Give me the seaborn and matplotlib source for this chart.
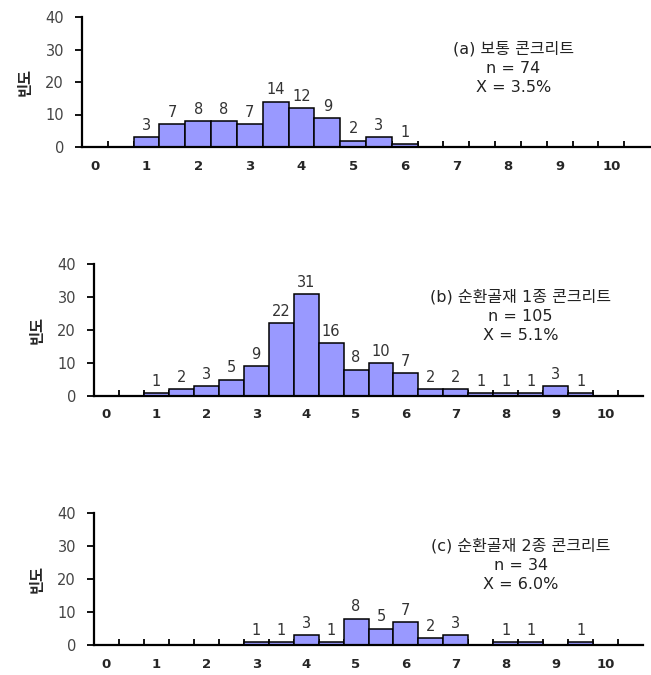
import numpy as np
import pandas as pd
import matplotlib
matplotlib.use('Agg')
import matplotlib.pyplot as plt
import seaborn as sns

sns.set_style('white')
plt.rcParams['font.family'] = ['DejaVu Sans', 'Noto Sans CJK KR']

# bin centres (0.5 steps) and counts
centers_a = [1.0, 1.5, 2.0, 2.5, 3.0, 3.5, 4.0, 4.5, 5.0, 5.5, 6.0]
counts_a = [3, 7, 8, 8, 7, 14, 12, 9, 2, 3, 1]

centers_b = [1.0, 1.5, 2.0, 2.5, 3.0, 3.5, 4.0, 4.5, 5.0, 5.5, 6.0,
             6.5, 7.0, 7.5, 8.0, 8.5, 9.0, 9.5]
counts_b = [1, 2, 3, 5, 9, 22, 31, 16, 8, 10, 7, 2, 2, 1, 1, 1, 3, 1]

centers_c = [3.0, 3.5, 4.0, 4.5, 5.0, 5.5, 6.0, 6.5, 7.0, 8.0, 8.5, 9.5]
counts_c = [1, 1, 3, 1, 8, 5, 7, 2, 3, 1, 1, 1]

titles = ['(a) 보통 콘크리트\nn = 74\nX = 3.5%',
          '(b) 순환골재 1종 콘크리트\nn = 105\nX = 5.1%',
          '(c) 순환골재 2종 콘크리트\nn = 34\nX = 6.0%']

x_ticks = list(range(0, 11))
y_ticks = [0, 10, 20, 30, 40]

fig = plt.figure(figsize=(6.51, 6.75), dpi=100)
positions = [
    [82 / 651, 528 / 675, 568 / 651, 130 / 675],
    [94 / 651, 279 / 675, 549 / 651, 132 / 675],
    [94 / 651, 30 / 675, 549 / 651, 132 / 675],
]
text_x = [8.1, 8.3, 8.3]
panels = [(centers_a, counts_a), (centers_b, counts_b), (centers_c, counts_c)]

for pos, (centers, counts), title, tx in zip(positions, panels, titles, text_x):
    ax = fig.add_axes(pos)
    df = pd.DataFrame({'x': centers, 'n': counts})
    sns.histplot(data=df, x='x', weights='n', binwidth=0.5,
                 binrange=(-0.25, 10.25), ax=ax,
                 color='#9999ff', edgecolor='black', linewidth=1.1, alpha=1)

    # count labels above the bars (skip empty bins)
    bars = ax.containers[0]
    labels = [str(int(round(b.get_height()))) if b.get_height() > 0 else '' for b in bars]
    ax.bar_label(bars, labels=labels, padding=3, fontsize=10.5, color='#333333')

    ax.set_xlim(-0.25, 10.75)
    ax.set_ylim(0, 40)
    sns.despine(ax=ax)
    for side in ['left', 'bottom']:
        ax.spines[side].set_linewidth(1.6)
        ax.spines[side].set_color('black')

    ax.set_xticks(x_ticks)
    ax.set_xticklabels([str(t) for t in x_ticks], fontweight='bold', fontsize=9.5)
    ax.set_xticks(np.arange(0.25, 10.5, 0.5), minor=True)
    ax.tick_params(axis='x', which='major', length=0, pad=9)
    ax.tick_params(axis='x', which='minor', direction='in', length=4,
                   width=1.3, color='black', bottom=True)

    ax.set_yticks(y_ticks)
    ax.set_yticklabels([str(t) for t in y_ticks], fontsize=10.5, color='#444444')
    ax.tick_params(axis='y', direction='out', length=5, width=1.3,
                   color='black', left=True, pad=8)

    ax.set_xlabel('')
    ax.set_ylabel('빈도', fontweight='bold', fontsize=11, labelpad=9)
    ax.grid(False)

    ax.text(tx, 24.3, title, ha='center', va='center', multialignment='center',
            fontsize=11.5, color='#222222', linespacing=1.35)

fig.savefig('out.png', dpi=100)
